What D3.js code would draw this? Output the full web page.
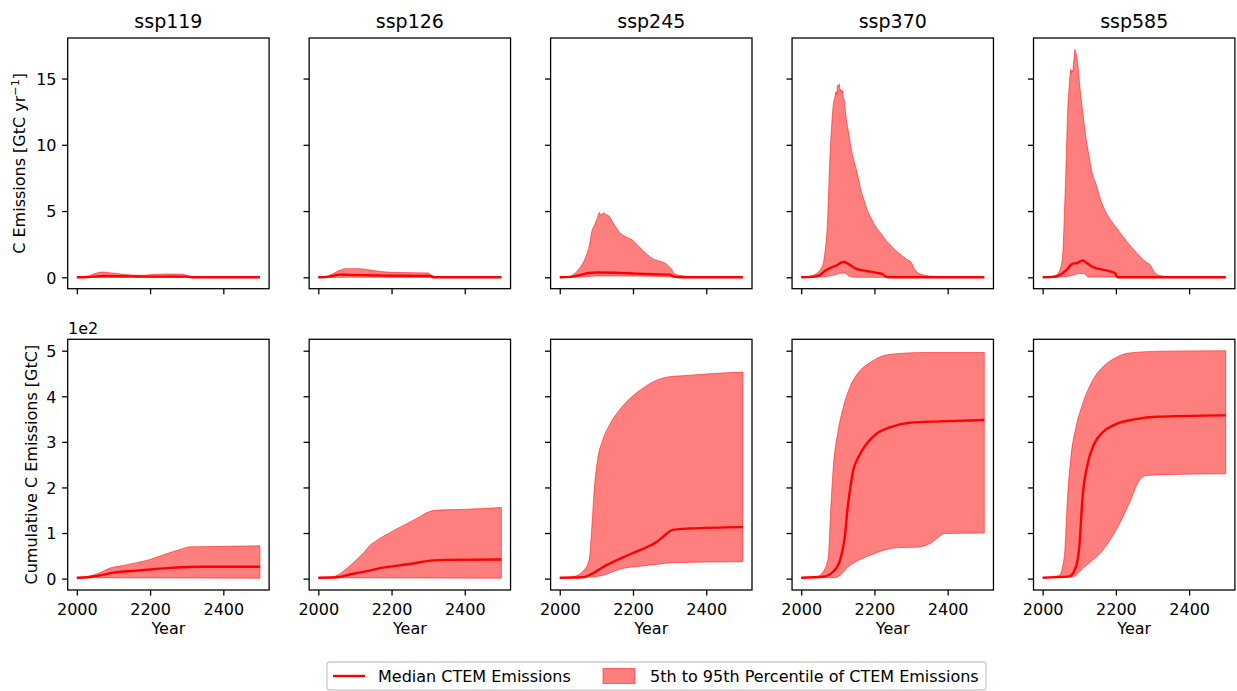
<!DOCTYPE html>
<html><head><meta charset="utf-8">
<script src="https://cdn.jsdelivr.net/npm/d3@7"></script>
<style>
body{margin:0;background:#fff}
svg{display:block}
text{font-family:"DejaVu Sans",sans-serif;fill:#000}
</style>
</head><body>
<svg id="c" width="1237" height="691"></svg>
<script>
// ---------------- DATA ----------------
const scenarios = ["ssp119","ssp126","ssp245","ssp370","ssp585"];
const xTicks = [2000, 2200, 2400];
const emisTicks = [0, 5, 10, 15];
const cumTicks = [0, 100, 200, 300, 400, 500];   // shown as x1e2
const legendLabels = ["Median CTEM Emissions", "5th to 95th Percentile of CTEM Emissions"];

// annual emissions [GtC/yr] : [year, value]
const ssp119EmisHi  = [[2000,0],[2026,0.05],[2054,0.33],[2072,0.4],[2090,0.35],[2127,0.23],[2173,0.15],[2200,0.2],[2246,0.25],[2291,0.23],[2305,0.08],[2337,0],[2500,0]];
const ssp119EmisMed = [[2000,0],[2030,0.02],[2060,0.08],[2080,0.1],[2150,0.07],[2200,0.05],[2300,0.05],[2320,0],[2500,0]];
const ssp119EmisLo  = [[2000,0],[2500,0]];

const ssp126EmisHi  = [[2000,0],[2023,0.08],[2041,0.28],[2059,0.53],[2073,0.65],[2114,0.65],[2141,0.55],[2177,0.42],[2223,0.36],[2300,0.33],[2309,0.15],[2332,0.03],[2360,0],[2500,0]];
const ssp126EmisMed = [[2000,0],[2030,0.05],[2059,0.2],[2086,0.18],[2177,0.13],[2305,0.1],[2315,0],[2500,0]];
const ssp126EmisLo  = [[2000,0],[2500,0]];

const ssp245EmisHi  = [[2000,0],[2026,0.07],[2053,0.65],[2071,1.53],[2080,2.3],[2088,3.5],[2094,3.9],[2103,4.5],[2108,4.9],[2112,4.7],[2116,4.8],[2121,4.85],[2128,4.7],[2135,4.6],[2144,4.2],[2153,3.8],[2163,3.4],[2172,3.2],[2181,3.05],[2199,2.8],[2217,2.3],[2236,1.8],[2254,1.4],[2272,1.23],[2290,1.03],[2304,0.65],[2313,0.28],[2327,0.15],[2354,0.07],[2400,0.03],[2500,0]];
const ssp245EmisMed = [[2000,0],[2030,0.03],[2060,0.2],[2080,0.33],[2100,0.36],[2150,0.34],[2208,0.28],[2260,0.23],[2300,0.2],[2312,0.05],[2330,0],[2500,0]];
const ssp245EmisLo  = [[2000,0],[2060,0.02],[2100,0.1],[2200,0.1],[2280,0.06],[2320,0],[2500,0]];

const ssp370EmisHi  = [[2000,0],[2031,0.15],[2054,0.65],[2063,1.5],[2072,4.3],[2078,8.8],[2084,11.8],[2088,13.1],[2092,13.6],[2095,14.0],[2097,13.8],[2099,14.5],[2102,14.4],[2104,14.6],[2106,14.0],[2108,14.2],[2111,13.9],[2113,14.1],[2115,13.6],[2118,13.3],[2122,12.2],[2127,11.3],[2132,10.5],[2136,9.8],[2142,9.0],[2149,8.3],[2156,7.5],[2163,6.6],[2172,5.8],[2181,5.05],[2192,4.4],[2204,3.8],[2218,3.3],[2231,2.8],[2245,2.4],[2259,2.0],[2272,1.7],[2286,1.4],[2300,1.15],[2309,0.65],[2316,0.4],[2323,0.28],[2350,0.1],[2405,0.03],[2500,0]];
const ssp370EmisMed = [[2000,0],[2030,0.03],[2049,0.15],[2067,0.53],[2086,0.78],[2100,0.95],[2108,1.1],[2118,1.15],[2127,1.03],[2138,0.85],[2149,0.65],[2163,0.55],[2177,0.48],[2204,0.35],[2222,0.25],[2231,0.05],[2240,0],[2500,0]];
const ssp370EmisLo  = [[2000,0],[2060,0.02],[2086,0.15],[2104,0.28],[2118,0.33],[2126,0.2],[2131,0.08],[2150,0],[2500,0]];

const ssp585EmisHi  = [[2000,0],[2036,0.15],[2050,0.8],[2055,1.8],[2059,4.5],[2064,8.6],[2068,12.3],[2073,14.6],[2077,15.7],[2079,15.4],[2080,15.6],[2082,15.5],[2084,16.1],[2086,16.6],[2088,17.2],[2090,17.0],[2094,16.5],[2097,15.8],[2100,14.85],[2109,12.6],[2118,10.6],[2127,9.1],[2136,7.8],[2145,7.1],[2159,5.8],[2177,4.7],[2200,3.8],[2227,2.8],[2255,1.9],[2282,1.15],[2295,0.9],[2305,0.4],[2318,0.15],[2345,0.05],[2500,0]];
const ssp585EmisMed = [[2000,0],[2030,0.03],[2045,0.15],[2064,0.53],[2082,1.03],[2095,1.08],[2103,1.2],[2109,1.28],[2115,1.2],[2123,1.03],[2141,0.73],[2164,0.58],[2186,0.43],[2198,0.3],[2205,0],[2500,0]];
const ssp585EmisLo  = [[2000,0],[2064,0.05],[2082,0.15],[2100,0.28],[2114,0.28],[2120,0.1],[2123,0.03],[2500,0]];

// cumulative emissions [GtC] : [year, value]
const ssp119CumHi  = [[2000,2],[2036,6],[2063,13],[2090,23],[2127,29],[2163,35],[2200,42],[2246,55],[2282,64],[2310,70],[2337,70],[2410,71],[2500,72]];
const ssp119CumMed = [[2000,2],[2036,3.6],[2063,7],[2100,13],[2154,17],[2200,20],[2246,23],[2300,25.5],[2337,26],[2500,26]];
const ssp119CumLo  = [[2000,2],[2500,1]];

const ssp126CumHi  = [[2000,2],[2040,4],[2055,9],[2080,24],[2105,42],[2125,58],[2140,72],[2160,84],[2200,103],[2240,120],[2280,137],[2300,146],[2320,150],[2400,152],[2500,156]];
const ssp126CumMed = [[2000,2],[2050,3],[2086,9],[2130,16],[2177,24],[2250,32],[2314,40],[2350,41],[2500,42]];
const ssp126CumLo  = [[2000,2],[2500,1]];

const ssp245CumHi  = [[2000,2],[2035,4],[2062,15],[2080,40],[2087,106],[2094,193],[2103,259],[2117,303],[2135,336],[2162,369],[2190,394],[2217,412],[2253,431],[2299,443],[2335,445],[2399,449],[2500,453]];
const ssp245CumMed = [[2000,2],[2062,3],[2089,11],[2126,29],[2171,46],[2217,62],[2262,79],[2281,91],[2308,107],[2354,110],[2500,113]];
const ssp245CumLo  = [[2000,2],[2080,3],[2117,7],[2171,22],[2217,27],[2262,31],[2308,35],[2500,37]];

const ssp370CumHi  = [[2000,2],[2042,4],[2060,15],[2074,47],[2080,142],[2087,237],[2101,325],[2115,376],[2133,420],[2160,456],[2188,474],[2224,489],[2270,494],[2333,496],[2500,496]];
const ssp370CumMed = [[2000,2],[2060,4],[2087,15],[2106,40],[2119,91],[2128,164],[2133,193],[2142,237],[2156,266],[2179,296],[2206,318],[2242,332],[2297,342],[2379,345],[2500,348]];
const ssp370CumLo  = [[2000,2],[2087,2],[2106,7],[2128,26],[2151,38],[2188,51],[2233,64],[2270,68],[2315,69],[2352,77],[2370,88],[2393,99],[2500,100]];

const ssp585CumHi  = [[2000,2],[2045,7],[2059,47],[2068,179],[2077,266],[2091,332],[2109,383],[2136,434],[2164,464],[2200,485],[2236,495],[2327,499],[2500,500]];
const ssp585CumMed = [[2000,2],[2073,5],[2091,26],[2100,69],[2109,179],[2123,252],[2141,296],[2164,321],[2200,339],[2255,350],[2309,355],[2500,358]];
const ssp585CumLo  = [[2000,2],[2082,4],[2109,22],[2136,40],[2164,62],[2200,106],[2236,164],[2264,215],[2282,226],[2327,228],[2500,230]];

const emisData = {
  ssp119:[ssp119EmisHi,ssp119EmisMed,ssp119EmisLo], ssp126:[ssp126EmisHi,ssp126EmisMed,ssp126EmisLo],
  ssp245:[ssp245EmisHi,ssp245EmisMed,ssp245EmisLo], ssp370:[ssp370EmisHi,ssp370EmisMed,ssp370EmisLo],
  ssp585:[ssp585EmisHi,ssp585EmisMed,ssp585EmisLo]};
const cumData = {
  ssp119:[ssp119CumHi,ssp119CumMed,ssp119CumLo], ssp126:[ssp126CumHi,ssp126CumMed,ssp126CumLo],
  ssp245:[ssp245CumHi,ssp245CumMed,ssp245CumLo], ssp370:[ssp370CumHi,ssp370CumMed,ssp370CumLo],
  ssp585:[ssp585CumHi,ssp585CumMed,ssp585CumLo]};

// ---------------- LAYOUT ----------------
const svg = d3.select("#c");
const L0 = 67.7, PW = 201.4, STEP = 241.45, PH = 250.7;
const rowTop = [38, 339.3];
const TICK = 5.6, SPINE = 1.28;

function padDomain(arrs){
  const mx = d3.max(arrs.flat(), d => d[1]);
  return [-0.05*mx, 1.05*mx];
}
const yEm = d3.scaleLinear()
  .domain(padDomain(scenarios.flatMap(s => emisData[s])))
  .range([rowTop[0]+PH, rowTop[0]]);
const yCum = d3.scaleLinear()
  .domain(padDomain(scenarios.flatMap(s => cumData[s])))
  .range([rowTop[1]+PH, rowTop[1]]);

function drawPanel(g, x, y, data, row, col){
  const [hi, med, lo] = data;
  const line = d3.line().x(d => x(d[0])).y(d => y(d[1])).curve(d3.curveMonotoneX);
  const upper = line(hi);
  const lower = line(lo.slice().reverse()).replace(/^M/, "L");
  // band
  g.append("path")
    .attr("d", upper + lower + "Z")
    .attr("fill", "red").attr("fill-opacity", 0.5)
    .attr("stroke", "red").attr("stroke-opacity", 0.5).attr("stroke-width", 1)
    .attr("stroke-linejoin", "round");
  // median
  g.append("path")
    .attr("d", line(med))
    .attr("fill", "none").attr("stroke", "red").attr("stroke-width", 2.4)
    .attr("stroke-linejoin", "round").attr("stroke-linecap", "butt");

  const top = rowTop[row];
  const xa = g.append("g").attr("transform", `translate(0,${top+PH})`)
    .call(d3.axisBottom(x).tickValues(xTicks).tickSize(TICK).tickPadding(8)
      .tickFormat(row === 1 ? d3.format("d") : () => ""));
  const ya = g.append("g").attr("transform", `translate(${x.range()[0]},0)`)
    .call(d3.axisLeft(y).tickValues(row === 0 ? emisTicks : cumTicks).tickSize(TICK).tickPadding(TICK)
      .tickFormat(col === 0 ? (row === 0 ? d3.format("d") : d => d/100) : () => ""));
  [xa, ya].forEach(a => {
    a.select(".domain").remove();
    a.selectAll(".tick line").attr("stroke", "#000").attr("stroke-width", SPINE);
    a.selectAll(".tick text").attr("font-size", 16).attr("font-family", "DejaVu Sans").attr("fill", "#000");
  });
  ya.selectAll(".tick text").attr("dy", "0.36em");
  g.append("rect")
    .attr("x", x.range()[0]).attr("y", top).attr("width", PW).attr("height", PH)
    .attr("fill", "none").attr("stroke", "#000").attr("stroke-width", SPINE);
}

scenarios.forEach((s, i) => {
  const x0 = L0 + i*STEP;
  const x = d3.scaleLinear().domain([1975, 2525]).range([x0, x0 + PW]);
  const g = svg.append("g");
  drawPanel(g, x, yEm, emisData[s], 0, i);
  drawPanel(g, x, yCum, cumData[s], 1, i);
  svg.append("text").attr("x", x0 + PW/2).attr("y", 28).attr("text-anchor", "middle")
    .attr("font-size", 19).text(s);
  svg.append("text").attr("x", x0 + PW/2).attr("y", 634).attr("text-anchor", "middle")
    .attr("font-size", 16).text("Year");
});

const yl1 = svg.append("text").attr("transform", `translate(24.5,${rowTop[0]+PH/2}) rotate(-90)`)
  .attr("text-anchor", "middle").attr("font-size", 16);
yl1.append("tspan").text("C Emissions [GtC yr");
yl1.append("tspan").attr("dy", -6).attr("font-size", 11.2).text("\u22121");
yl1.append("tspan").attr("dy", 6).text("]");

svg.append("text").attr("transform", `translate(36.7,${rowTop[1]+PH/2}) rotate(-90)`)
  .attr("text-anchor", "middle").attr("font-size", 16).text("Cumulative C Emissions [GtC]");

svg.append("text").attr("x", 68).attr("y", 334).attr("font-size", 16).text("1e2");

const lg = svg.append("g");
lg.append("rect").attr("x", 327).attr("y", 662).attr("width", 659).attr("height", 28).attr("rx", 3)
  .attr("fill", "#fff").attr("fill-opacity", 0.8).attr("stroke", "#cccccc").attr("stroke-width", 1.3);
lg.append("line").attr("x1", 333).attr("x2", 365).attr("y1", 676).attr("y2", 676)
  .attr("stroke", "red").attr("stroke-width", 2.4);
lg.append("text").attr("x", 378).attr("y", 682).attr("font-size", 16).text(legendLabels[0]);
lg.append("rect").attr("x", 603).attr("y", 668.5).attr("width", 32).attr("height", 15)
  .attr("fill", "red").attr("fill-opacity", 0.5).attr("stroke", "red").attr("stroke-opacity", 0.5).attr("stroke-width", 1);
lg.append("text").attr("x", 650).attr("y", 682).attr("font-size", 16).text(legendLabels[1]);
</script>
</body></html>
